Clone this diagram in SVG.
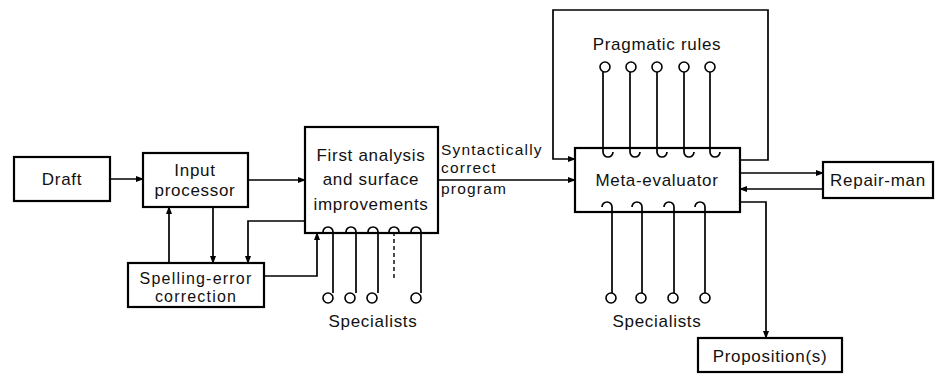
<svg xmlns="http://www.w3.org/2000/svg" width="937" height="374" viewBox="0 0 937 374">
<style>
  .box{fill:#fff;stroke:#000;stroke-width:2.2}
  .t{font-family:"Liberation Sans",Arial,sans-serif;font-size:17px;letter-spacing:0.7px;fill:#111;text-anchor:middle}
  .ts{font-family:"Liberation Sans",Arial,sans-serif;font-size:16px;letter-spacing:1.2px;fill:#111;text-anchor:middle}
  .tl{font-family:"Liberation Sans",Arial,sans-serif;font-size:15.5px;letter-spacing:1.2px;fill:#111}
  .c{fill:none;stroke:#000;stroke-width:1.7}
  .cd{fill:none;stroke:#000;stroke-width:1.4;stroke-dasharray:4 3}
  .k{fill:#fff;stroke:#000;stroke-width:1.6}
</style>
<defs>
  <marker id="a" markerWidth="8" markerHeight="6" refX="7" refY="3" orient="auto" markerUnits="userSpaceOnUse">
    <path d="M0,0 L8,3 L0,6 Z" fill="#000"/>
  </marker>
</defs>
<rect width="937" height="374" fill="#fff"/>

<g id="connectors">
  <path class="c" d="M110,179 H143" marker-end="url(#a)"/>
  <path class="c" d="M248,180 H305" marker-end="url(#a)"/>
  <path class="c" d="M169,263 V207" marker-end="url(#a)"/>
  <path class="c" d="M213,207 V263" marker-end="url(#a)"/>
  <path class="c" d="M305,221 H248 V263" marker-end="url(#a)"/>
  <path class="c" d="M264,276 H317 V233" marker-end="url(#a)"/>
  <path class="c" d="M438,180 H575" marker-end="url(#a)"/>
  <path class="c" d="M740,160 H768 V10 H553 V159 H575" marker-end="url(#a)"/>
  <path class="c" d="M740,173 H823" marker-end="url(#a)"/>
  <path class="c" d="M823,189 H740" marker-end="url(#a)"/>
  <path class="c" d="M740,202 H766 V338" marker-end="url(#a)"/>
</g>

<g id="draft">
  <rect class="box" x="14" y="157" width="96" height="44"/>
  <text class="t" x="62" y="185">Draft</text>
</g>

<g id="input-processor">
  <rect class="box" x="143" y="153" width="105" height="54"/>
  <text class="t" x="195" y="176">Input</text>
  <text class="t" x="195" y="196">processor</text>
</g>

<g id="spelling-error-correction">
  <rect class="box" x="128" y="263" width="136" height="44"/>
  <text class="ts" x="196" y="284">Spelling-error</text>
  <text class="ts" x="196" y="302">correction</text>
</g>

<g id="first-analysis">
  <rect class="box" x="305" y="127" width="133" height="106"/>
  <text class="t" x="371" y="161">First analysis</text>
  <text class="t" x="371" y="185">and surface</text>
  <text class="t" x="371" y="210">improvements</text>
</g>

<g id="fa-specialists">
  <path class="c" d="M323,232 A5,5 0 0 1 333,232 V293"/>
  <path class="c" d="M346,232 A5,5 0 0 1 356,232 V293"/>
  <path class="c" d="M368,232 A5,5 0 0 1 378,232 V293"/>
  <path class="c" d="M389,232 A5,5 0 0 1 399,232"/>
  <path class="cd" d="M394,232 V280"/>
  <path class="c" d="M411,232 A5,5 0 0 1 421,232 V293"/>
  <circle class="k" cx="328" cy="298" r="5"/>
  <circle class="k" cx="350" cy="298" r="5"/>
  <circle class="k" cx="372" cy="298" r="5"/>
  <circle class="k" cx="416" cy="298" r="5"/>
  <text class="t" x="373" y="327">Specialists</text>
</g>

<g id="syntactic-label">
  <text class="tl" x="441" y="155">Syntactically</text>
  <text class="tl" x="441" y="173">correct</text>
  <text class="tl" x="441" y="194">program</text>
</g>

<g id="meta-evaluator">
  <rect class="box" x="575" y="148" width="165" height="64"/>
  <text class="t" x="657" y="186">Meta-evaluator</text>
</g>

<g id="pragmatic-rules">
  <text class="t" x="657" y="50">Pragmatic rules</text>
  <circle class="k" cx="605" cy="67" r="5"/>
  <circle class="k" cx="631" cy="67" r="5"/>
  <circle class="k" cx="657" cy="67" r="5"/>
  <circle class="k" cx="684" cy="67" r="5"/>
  <circle class="k" cx="710" cy="67" r="5"/>
  <path class="c" d="M603,72 V152 A5,5 0 0 0 613,152"/>
  <path class="c" d="M630,72 V152 A5,5 0 0 0 640,152"/>
  <path class="c" d="M657,72 V152 A5,5 0 0 0 667,152"/>
  <path class="c" d="M684,72 V152 A5,5 0 0 0 694,152"/>
  <path class="c" d="M710,72 V152 A5,5 0 0 0 720,152"/>
</g>

<g id="me-specialists">
  <path class="c" d="M602,207 A5,5 0 0 1 612,207 V293"/>
  <path class="c" d="M632,207 A5,5 0 0 1 642,207 V293"/>
  <path class="c" d="M664,207 A5,5 0 0 1 674,207 V293"/>
  <path class="c" d="M695,207 A5,5 0 0 1 705,207 V293"/>
  <circle class="k" cx="611" cy="298" r="5"/>
  <circle class="k" cx="641" cy="298" r="5"/>
  <circle class="k" cx="673" cy="298" r="5"/>
  <circle class="k" cx="705" cy="298" r="5"/>
  <text class="t" x="657" y="327">Specialists</text>
</g>

<g id="repair-man">
  <rect class="box" x="823" y="162" width="110" height="36"/>
  <text class="t" x="878" y="186">Repair-man</text>
</g>

<g id="propositions">
  <rect class="box" x="698" y="338" width="144" height="34"/>
  <text class="t" x="770" y="362">Proposition(s)</text>
</g>
</svg>
